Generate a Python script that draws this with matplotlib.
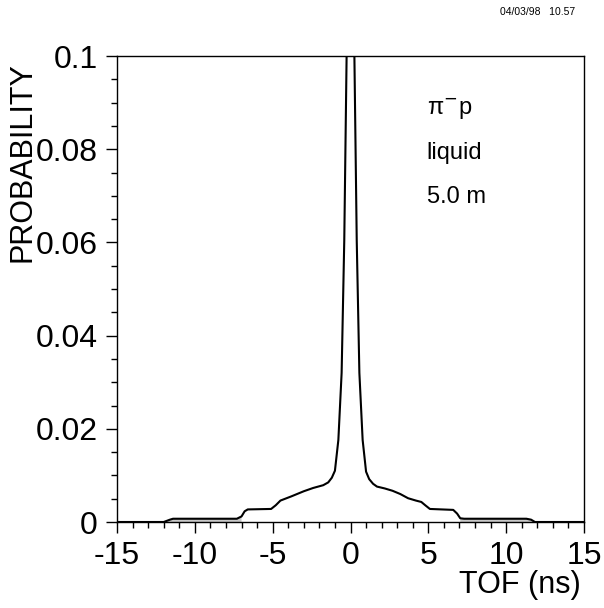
import matplotlib.pyplot as plt
import numpy as np

plt.rcParams['font.family'] = ['Liberation Sans', 'DejaVu Sans']
plt.rcParams['axes.unicode_minus'] = False

# TOF distribution (peak runs off the top)
tof = [-15, -12.0, -11.6, -11.4, -7.3, -7.0, -6.8, -6.6, -5.1, -4.8, -4.5, -3.8, -3.0,
       -2.4, -1.75, -1.43, -1.2, -1.0, -0.78, -0.57, -0.4, -0.25, 0.0,
       0.25, 0.4, 0.57, 0.78, 1.0, 1.2, 1.45, 1.7, 2.2, 2.7, 3.2, 3.7, 4.2, 4.55,
       4.8, 5.1, 6.6, 6.85, 7.05, 7.3, 11.3, 11.6, 11.85, 15]
prob = [0, 0, 0.0005, 0.0007, 0.0007, 0.0012, 0.0023, 0.0027, 0.0028, 0.0036, 0.0046, 0.0055, 0.0066,
        0.0073, 0.0079, 0.0085, 0.0095, 0.011, 0.0176, 0.032, 0.0605, 0.1, 0.16,
        0.1, 0.0605, 0.032, 0.0176, 0.0108, 0.0092, 0.0082, 0.0076, 0.0072, 0.0067, 0.0060, 0.0051, 0.0046, 0.0043,
        0.0036, 0.0028, 0.0026, 0.0018, 0.0008, 0.0007, 0.0007, 0.0005, 0, 0]

xticks = [-15, -10, -5, 0, 5, 10, 15]
yticks = [0, 0.02, 0.04, 0.06, 0.08, 0.1]
ylabels = ['0', '0.02', '0.04', '0.06', '0.08', '0.1']
notes = ['π$^{-}$p', 'liquid', '5.0 m']

fig = plt.figure(figsize=(6.04, 6.08), dpi=100)
ax = fig.add_axes([117/604, 1-522/608, (584-117)/604, (522-56)/608])

tof = np.array(tof)
prob = np.array(prob)
ax.fill_between(tof, prob, where=np.abs(tof) > 6.9, color='#c8c8c8', lw=0)
ax.plot(tof, prob, color='black', lw=1.5)

ax.set_xlim(-15, 15)
ax.set_ylim(0, 0.1)
ax.set_xticks(xticks)
ax.set_xticklabels([str(t) for t in xticks])
ax.set_xticks(np.arange(-15, 16, 1), minor=True)
ax.set_yticks(yticks)
ax.set_yticklabels(ylabels)
ax.set_yticks(np.arange(0, 0.1001, 0.005), minor=True)
ax.tick_params(which='major', direction='out', length=8, width=1, labelsize=23, pad=6)
ax.tick_params(which='minor', direction='out', length=4, width=1)
for s in ax.spines.values():
    s.set_linewidth(1)

for i, t in enumerate(notes):
    ax.text(4.9, 0.0873 - i * 0.0094, t, fontsize=17, ha='left', va='baseline')

fig.text(1 - 29/604, 1 - 12/608, '04/03/98   10.57', fontsize=7.5, ha='right', va='center')
fig.text(23/604, 1 - 62/608, 'PROBABILITY', fontsize=22, rotation=90, ha='center', va='top')
fig.text(581/604, 1 - 593/608, 'TOF (ns)', fontsize=22, ha='right', va='baseline')

fig.savefig('out.png', dpi=100)
